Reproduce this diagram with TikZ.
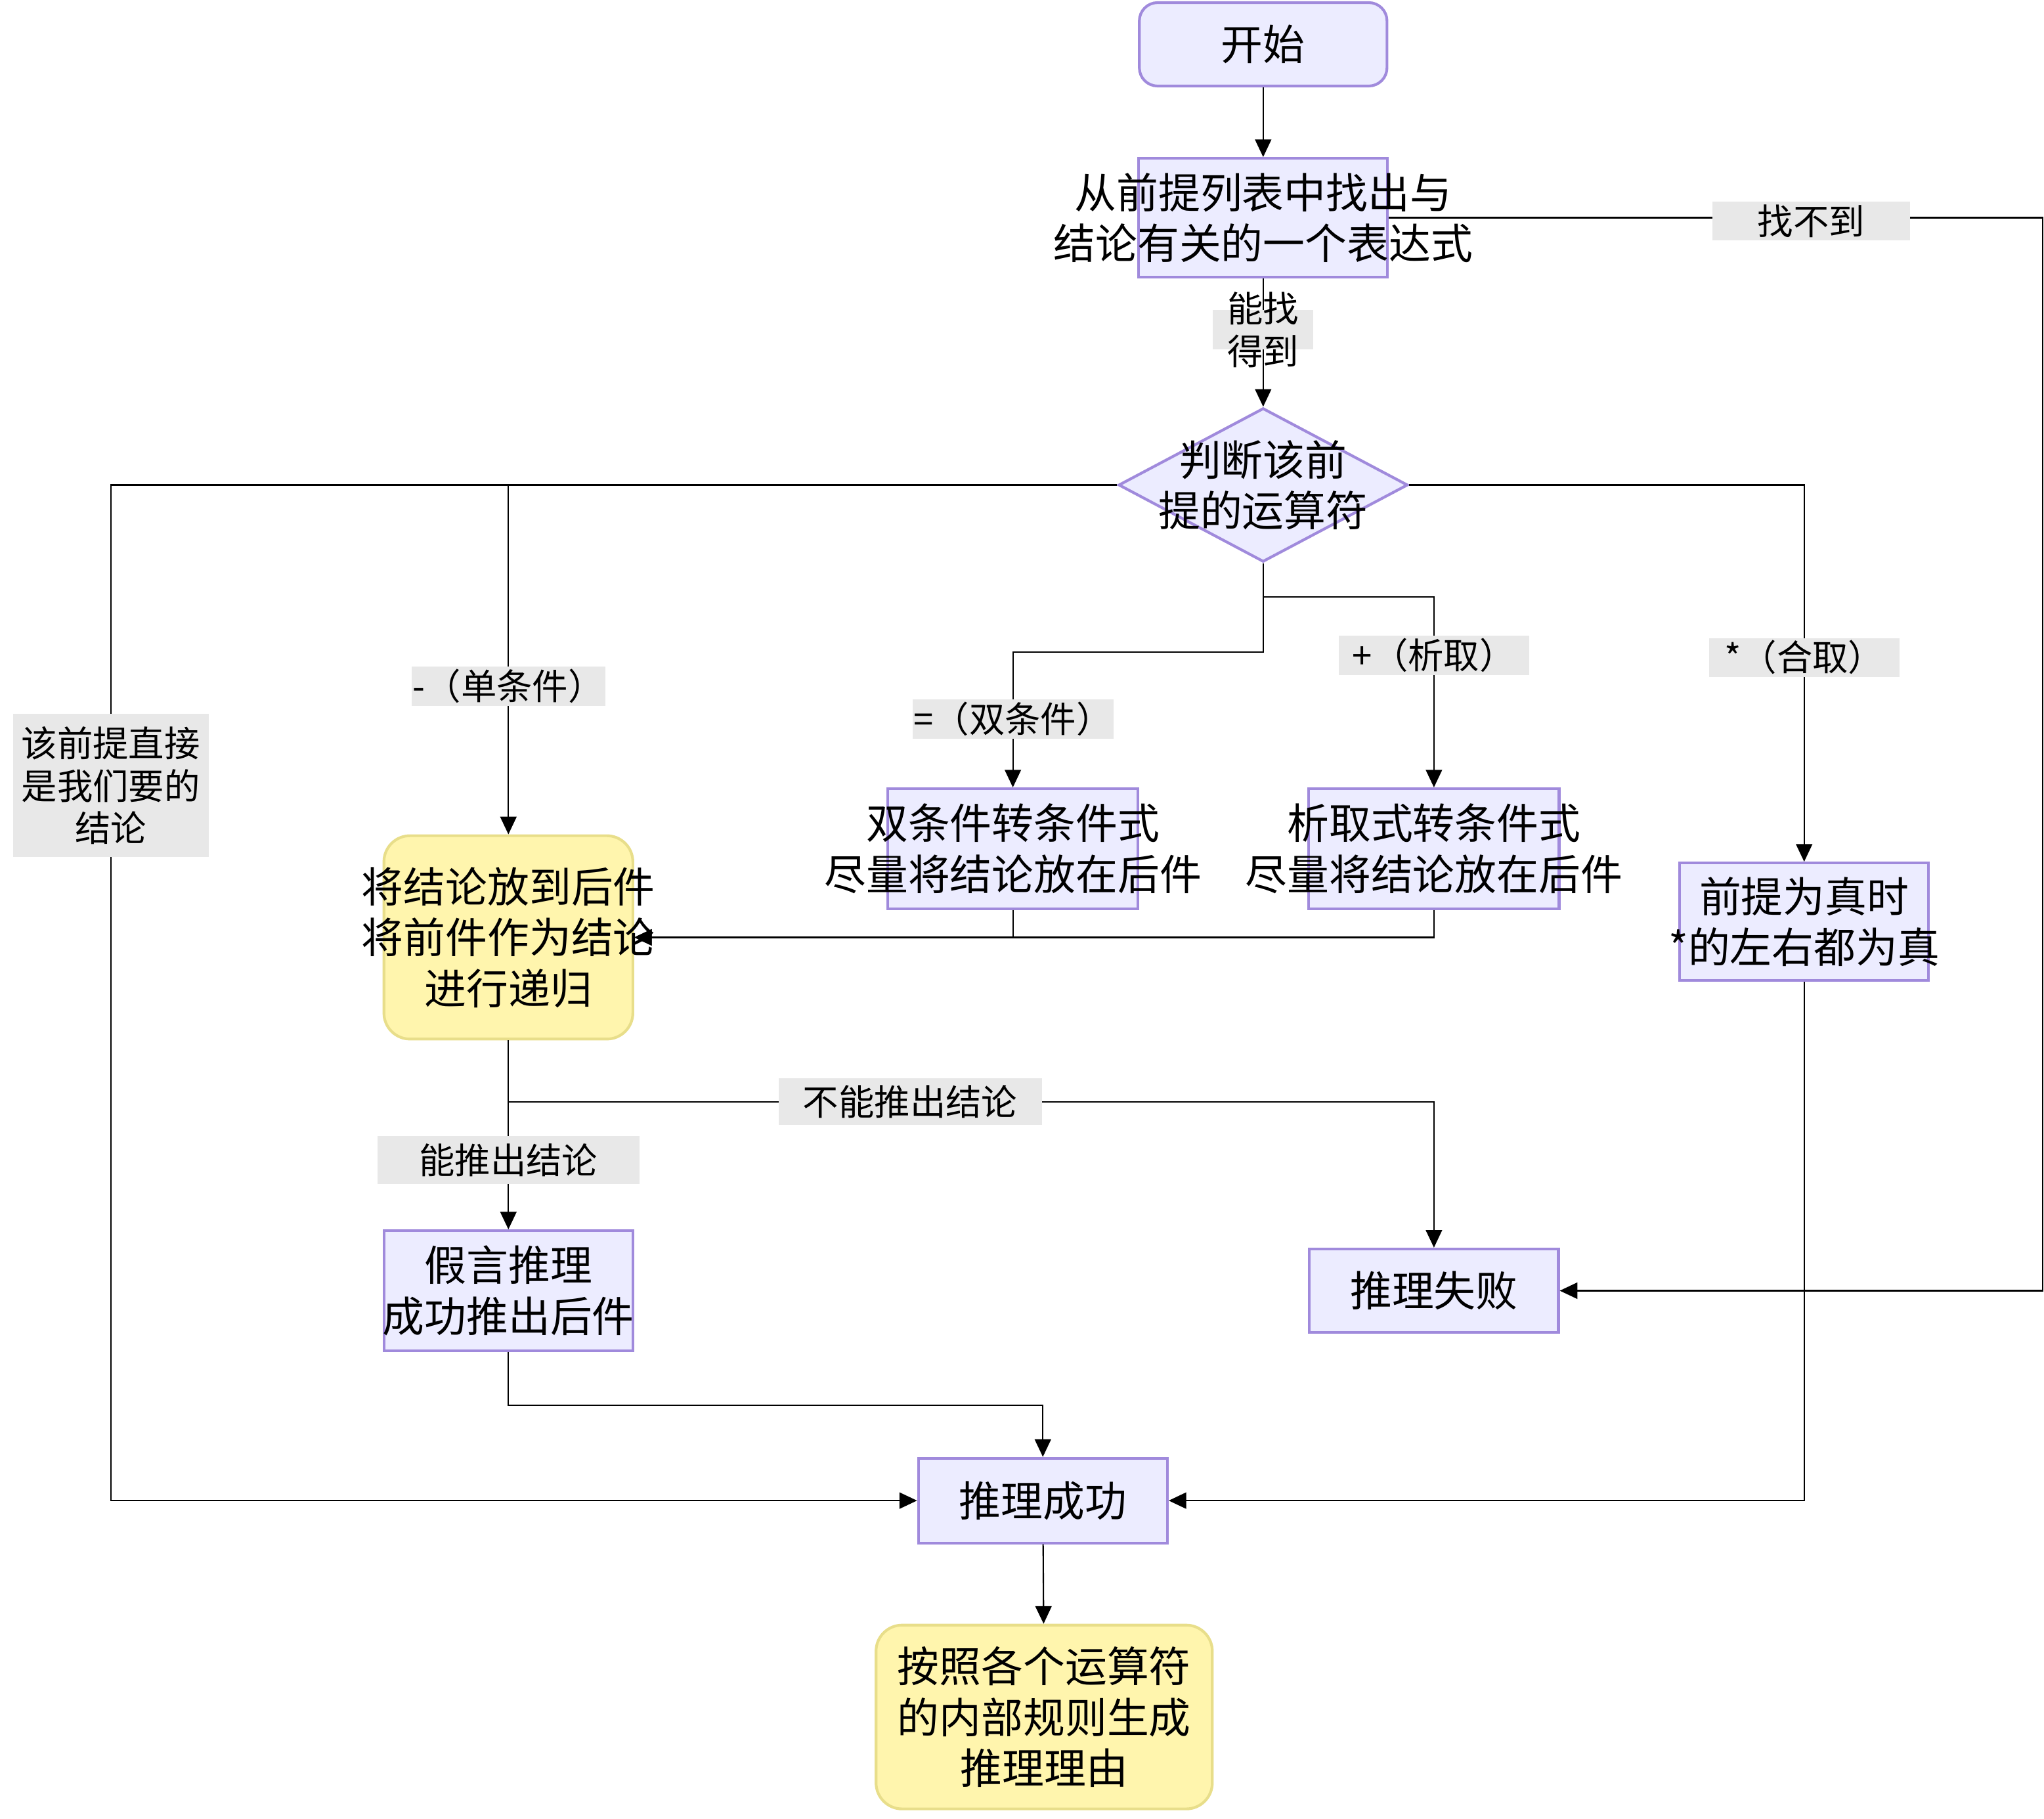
\documentclass[tikz,border=0pt]{standalone}
\usepackage{fontspec}
\setmainfont{Noto Sans CJK SC}
\usetikzlibrary{shapes.geometric,arrows.meta}

\definecolor{boxfill}{HTML}{ECECFF}
\definecolor{boxline}{HTML}{A08ADC}
\definecolor{notefill}{HTML}{FFF5AD}
\definecolor{noteline}{HTML}{E8DE8A}
\definecolor{lblfill}{HTML}{E8E8E8}

% text wider than its box
\newcommand{\wide}[1]{\makebox[0pt]{#1}}

\tikzstyle{proc}=[rectangle, draw=boxline, fill=boxfill, line width=1.2pt, inner sep=1pt, align=center, font=\fontsize{18.3pt}{22.2pt}\selectfont]
\tikzstyle{term}=[proc, rounded corners=0.28cm]
\tikzstyle{note}=[proc, draw=noteline, fill=notefill, rounded corners=0.4cm]
\tikzstyle{decide}=[proc, diamond, inner sep=0pt]
\tikzstyle{lbl}=[fill=lblfill, inner sep=0.5pt, minimum height=0.6cm, align=center, font=\fontsize{15.6pt}{18.5pt}\selectfont]
\tikzstyle{arr}=[-{Triangle[length=0.27cm,width=0.25cm]}, line width=0.6pt]

\begin{document}
\begin{tikzpicture}[x=0.02cm, y=-0.02cm]
            \useasboundingbox (0,0) rectangle (1568,1395);
            \node[term, minimum width=3.8cm, minimum height=1.28cm] (start) at (969,34) {开始};
            \node[proc, minimum width=3.82cm, minimum height=1.82cm] (find) at (969,167) {\wide{从前提列表中找出与}\\\wide{结论有关的一个表达式}};
            \node[decide, minimum width=4.44cm, minimum height=2.36cm] (judge) at (969,372) {\wide{判断该前}\\\wide{提的运算符}};
            \node[note, minimum width=3.82cm, minimum height=3.12cm] (recur) at (390,719) {\wide{将结论放到后件}\\\wide{将前件作为结论}\\进行递归};
            \node[proc, minimum width=3.84cm, minimum height=1.84cm] (bicond) at (777,651) {\wide{双条件转条件式}\\\wide{尽量将结论放在后件}};
            \node[proc, minimum width=3.84cm, minimum height=1.84cm] (disj) at (1100,651) {\wide{析取式转条件式}\\\wide{尽量将结论放在后件}};
            \node[proc, minimum width=3.82cm, minimum height=1.8cm] (conj) at (1384,707) {前提为真时\\\wide{*的左右都为真}};
            \node[proc, minimum width=3.82cm, minimum height=1.84cm] (modus) at (390,990) {假言推理\\\wide{成功推出后件}};
            \node[proc, minimum width=3.82cm, minimum height=1.28cm] (fail) at (1100,990) {推理失败};
            \node[proc, minimum width=3.82cm, minimum height=1.3cm] (success) at (800,1151) {推理成功};
            \node[note, minimum width=5.16cm, minimum height=2.82cm] (reason) at (801,1317) {按照各个运算符\\的内部规则生成\\推理理由};
            \coordinate (rrim) at (1567,167);
            \coordinate (lrim) at (85,372);
            \draw[arr] (start) -- (find);
            \draw[arr] (find) -- node[lbl, pos=0.4, minimum width=1.54cm, label={[lbl, fill=none, minimum height=0pt]center:{能找\\得到}}] (lfound) {} (judge);
            \draw[arr] (find.east) -- node[lbl, pos=0.646, minimum width=3.04cm, yshift=-0.05cm] (lmiss) {找不到} (rrim) |- (fail.east);
            \draw[arr] (judge.west) -- (lrim) |- node[lbl, pos=0.148, minimum width=3cm, minimum height=2.2cm] (ldirect) {该前提直接\\是我们要的\\结论} (success.west);
            \draw[arr] (judge.west) -| node[lbl, pos=0.788, minimum width=2.94cm] (lsingle) {-（单条件）} (recur.north);
            \draw[arr] (judge.south) -- ++(0,68) -| node[lbl, pos=0.748, minimum width=2.94cm] (lbi) {=（双条件）} (bicond.north);
            \draw[arr] (judge.south) -- ++(0,26) -| node[lbl, pos=0.653, minimum width=2.92cm] (ldisj) {+（析取）} (disj.north);
            \draw[arr] (judge.east) -| node[lbl, pos=0.729, minimum width=2.92cm] (lconj) {*（合取）} (conj.north);
            \draw[arr] (bicond.south) |- (recur.east);
            \draw[arr] (disj.south) |- (recur.east);
            \draw[arr] (recur.south) -- ++(0,47) -| node[lbl, pos=0.217, minimum width=4.04cm, minimum height=0.72cm] (lcannot) {不能推出结论} (fail.north);
            \draw[arr] (recur.south) -- node[lbl, pos=0.633, minimum width=4.02cm, minimum height=0.74cm] (lcan) {能推出结论} (modus.north);
            \draw[arr] (modus.south) -- ++(0,41) -| (success.north);
            \draw[arr] (conj.south) |- (success.east);
            \draw[arr] (success) -- (reason);
        \end{tikzpicture}
\end{document}
